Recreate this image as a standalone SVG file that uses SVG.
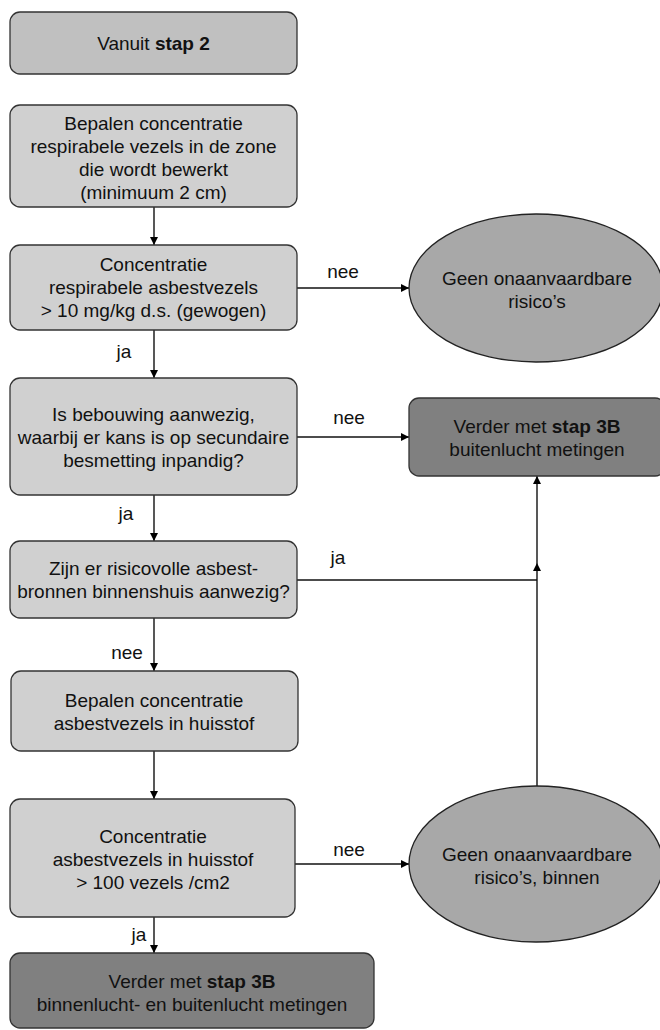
<svg xmlns="http://www.w3.org/2000/svg" width="660" height="1030" viewBox="0 0 660 1030">
<defs>
<marker id="arr" viewBox="0 0 8 8" refX="8" refY="4" markerWidth="8" markerHeight="8" markerUnits="userSpaceOnUse" orient="auto">
<path d="M0,0 L8,4 L0,8 z" fill="#000"/>
</marker>
<style>
.box{stroke:#333;stroke-width:1.3}
.start{fill:#c0c0c0}
.light{fill:#d0d0d0}
.dark{fill:#808080}
.ell{fill:#a8a8a8;stroke:#222;stroke-width:1.3}
text{font-family:"Liberation Sans",Arial,sans-serif;font-size:19px;fill:#111;text-anchor:middle}
.b{font-weight:bold}
.conn{stroke:#111;stroke-width:1.4;fill:none}
</style>
</defs>
<rect width="660" height="1030" fill="#fff"/>

<g id="connectors">
<path class="conn" d="M154,207 V245" marker-end="url(#arr)"/>
<path class="conn" d="M297,288 H409" marker-end="url(#arr)"/>
<text x="343" y="278">nee</text>
<path class="conn" d="M154,330 V378" marker-end="url(#arr)"/>
<text x="124" y="358">ja</text>
<path class="conn" d="M297,437 H409" marker-end="url(#arr)"/>
<text x="349" y="424">nee</text>
<path class="conn" d="M154,495 V541" marker-end="url(#arr)"/>
<text x="126" y="520">ja</text>
<path class="conn" d="M297,580 H537"/>
<text x="338" y="564">ja</text>
<path class="conn" d="M537,786 V563" marker-end="url(#arr)"/>
<path class="conn" d="M537,563 V476" marker-end="url(#arr)"/>
<path class="conn" d="M154,618 V671" marker-end="url(#arr)"/>
<text x="127" y="659">nee</text>
<path class="conn" d="M154,751 V799" marker-end="url(#arr)"/>
<path class="conn" d="M295,864 H409" marker-end="url(#arr)"/>
<text x="349" y="856">nee</text>
<path class="conn" d="M154,917 V953" marker-end="url(#arr)"/>
<text x="139" y="941">ja</text>
</g>

<g id="n-start">
<rect class="box start" x="10" y="12" width="287" height="62" rx="10"/>
<text x="153.5" y="50">Vanuit <tspan class="b">stap 2</tspan></text>
</g>

<g id="n-bepalen1">
<rect class="box light" x="10" y="105" width="287" height="102" rx="10"/>
<text x="153.5" y="130">Bepalen concentratie</text>
<text x="153.5" y="153">respirabele vezels in de zone</text>
<text x="153.5" y="176">die wordt bewerkt</text>
<text x="153.5" y="199">(minimuum 2 cm)</text>
</g>

<g id="n-conc1">
<rect class="box light" x="10" y="245" width="287" height="85" rx="10"/>
<text x="153.5" y="271">Concentratie</text>
<text x="153.5" y="294">respirabele asbestvezels</text>
<text x="153.5" y="317">&gt; 10 mg/kg d.s. (gewogen)</text>
</g>

<g id="n-geen1">
<ellipse class="ell" cx="536" cy="288" rx="127" ry="74"/>
<text x="537" y="285">Geen onaanvaardbare</text>
<text x="537" y="308">risico’s</text>
</g>

<g id="n-bebouwing">
<rect class="box light" x="10" y="378" width="287" height="117" rx="10"/>
<text x="153.5" y="421">Is bebouwing aanwezig,</text>
<text x="153.5" y="444">waarbij er kans is op secundaire</text>
<text x="153.5" y="467">besmetting inpandig?</text>
</g>

<g id="n-stap3b-buiten">
<rect class="box dark" x="409" y="398" width="256" height="78" rx="10"/>
<text x="537" y="433">Verder met <tspan class="b">stap 3B</tspan></text>
<text x="537" y="456">buitenlucht metingen</text>
</g>

<g id="n-bronnen">
<rect class="box light" x="10" y="541" width="287" height="77" rx="10"/>
<text x="153.5" y="575">Zijn er risicovolle asbest-</text>
<text x="153.5" y="598">bronnen binnenshuis aanwezig?</text>
</g>

<g id="n-bepalen2">
<rect class="box light" x="11" y="671" width="287" height="80" rx="10"/>
<text x="154" y="707">Bepalen concentratie</text>
<text x="154" y="730">asbestvezels in huisstof</text>
</g>

<g id="n-conc2">
<rect class="box light" x="10" y="799" width="285" height="118" rx="10"/>
<text x="153" y="843">Concentratie</text>
<text x="153" y="866">asbestvezels in huisstof</text>
<text x="153" y="889">&gt; 100 vezels /cm2</text>
</g>

<g id="n-geen2">
<ellipse class="ell" cx="536" cy="864" rx="127" ry="78"/>
<text x="537" y="861">Geen onaanvaardbare</text>
<text x="537" y="884">risico’s, binnen</text>
</g>

<g id="n-stap3b-binnen">
<rect class="box dark" x="10" y="953" width="364" height="75" rx="10"/>
<text x="192" y="988">Verder met <tspan class="b">stap 3B</tspan></text>
<text x="192" y="1011">binnenlucht- en buitenlucht metingen</text>
</g>
</svg>
